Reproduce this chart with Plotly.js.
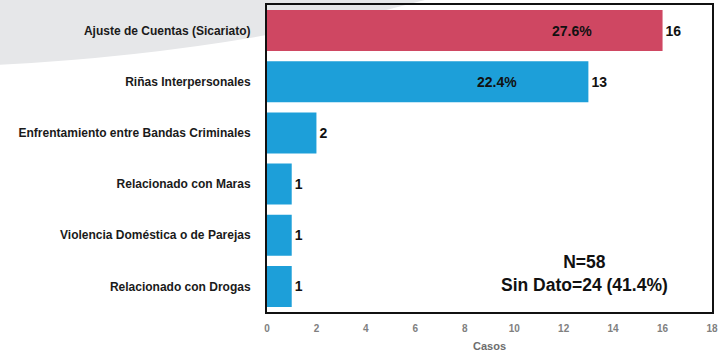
<!DOCTYPE html>
<html><head><meta charset="utf-8">
<script src="https://cdn.plot.ly/plotly-3.0.1.min.js"></script>
<style>html,body{margin:0;padding:0;background:#fff}</style>
</head><body><div id="chart" style="width:724px;height:354px"></div>
<script>
const categories = ["Ajuste de Cuentas (Sicariato)","Riñas Interpersonales","Enfrentamiento entre Bandas Criminales","Relacionado con Maras","Violencia Doméstica o de Parejas","Relacionado con Drogas"];
const casos = [16, 13, 2, 1, 1, 1];
const porcentajes = ["27.6%", "22.4%", "", "", "", ""];
const barColors = ["#cf4762","#1d9fd9","#1d9fd9","#1d9fd9","#1d9fd9","#1d9fd9"];
const xTicks = [0,2,4,6,8,10,12,14,16,18];
const notaTexto = "N=58<br>Sin Dato=24 (41.4%)";

const FONT = "Arial, 'Liberation Sans', sans-serif";

const trace = {
  type: "bar", orientation: "h",
  x: casos, y: categories,
  marker: {color: barColors, line: {width: 0}},
  text: casos.map(String), textposition: "outside", cliponaxis: false,
  textfont: {family: FONT, size: 14, color: "#111", weight: "bold"},
  hoverinfo: "none"
};

const annotations = [];
porcentajes.forEach((p, i) => {
  if (p) annotations.push({x: casos[i], y: categories[i], xref: "x", yref: "y", text: p, showarrow: false,
    xanchor: "center", xshift: -91, font: {family: FONT, size: 14, color: "#111", weight: "bold"}});
});
annotations.push({x: 0.714, y: 0.125, xref: "paper", yref: "paper", text: notaTexto, showarrow: false,
  xanchor: "center", yanchor: "middle",
  align: "center", font: {family: FONT, size: 17.5, color: "#111", weight: "bold"}});

const layout = {
  width: 724, height: 354,
  margin: {l: 267, r: 12, t: 5, b: 42},
  paper_bgcolor: "#fff", plot_bgcolor: "#fff",
  bargap: 0.2, showlegend: false,
  xaxis: {range: [0, 18], tickvals: xTicks, showgrid: false, zeroline: false,
    showline: true, linecolor: "#111", linewidth: 2, mirror: true,
    ticks: "outside", ticklen: 6, tickcolor: "rgba(0,0,0,0)",
    tickfont: {family: FONT, size: 10, color: "#808080", weight: "bold"},
    title: {text: "Casos", standoff: 9, font: {family: FONT, size: 11, color: "#6d6d6d", weight: "bold"}}},
  yaxis: {autorange: "reversed", showgrid: false, zeroline: false,
    showline: true, linecolor: "#111", linewidth: 2, mirror: true,
    ticks: "outside", ticklen: 12, tickcolor: "rgba(0,0,0,0)",
    tickfont: {family: FONT, size: 12, color: "#1a1a1a", weight: "bold"}},
  shapes: [{type: "path", xref: "paper", yref: "paper", layer: "below",
    path: "M -0.6,1.03 L -0.6,0.805 Q -0.058,0.847 0.389,1.03 Z",
    fillcolor: "#e6e7e9", line: {width: 0}}],
  annotations: annotations
};

Plotly.newPlot("chart", [trace], layout, {displayModeBar: false, staticPlot: true});
</script></body></html>
